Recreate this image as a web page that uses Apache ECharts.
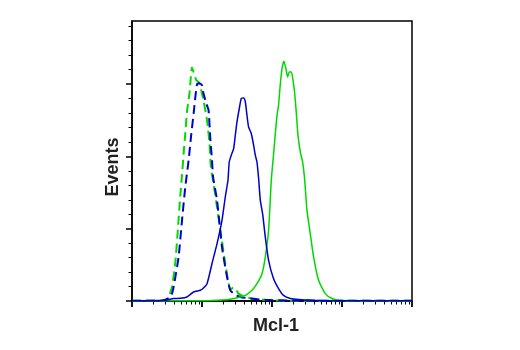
<!DOCTYPE html>
<html>
<head>
<meta charset="utf-8">
<script src="https://cdn.jsdelivr.net/npm/echarts@6/dist/echarts.min.js"></script>
<style>
  html, body { margin: 0; padding: 0; background: #fff; }
  #chart { width: 520px; height: 350px; }
</style>
</head>
<body>
<div id="chart"></div>
<script>
// ---- Data (fluorescence intensity on log scale, event counts) ----
const xMajorTicks = [1, 10, 100, 1000, 10000];
const xMinorTicks = [2,3,4,5,6,7,8,9, 20,30,40,50,60,70,80,90, 200,300,400,500,600,700,800,900, 2000,3000,4000,5000,6000,7000,8000,9000];
const yMajorTicks = [0, 50, 100, 150];
const yMinorTicks = [10,20,30,40, 60,70,80,90, 110,120,130,140, 160,170,180,190];

// Green dashed histogram
const greenDashed = [
  [1,0.1],[2.54,0.1],[3.30,1.2],[3.53,6.0],[3.73,9.7],[4.15,26.1],[4.48,46.8],[4.90,73.1],[5.18,86.9],
  [5.46,101.9],[5.77,115.8],[6.10,130.7],[6.65,144.5],[7.20,161.4],[7.76,156.8],[8.29,152.6],
  [8.94,151.5],[9.61,147.1],[10.5,138.8],[11.8,125.0],[12.8,108.9],[13.4,92.7],[14.6,81.2],
  [16.4,65.0],[18.3,48.9],[21.5,25.9],[24.0,12.2],[25.8,8.1],[28.3,9.3],[30.9,7.4],[33.3,5.1],
  [38.9,3.3],[49.0,1.9],[80.2,0.8],[183,0.1],[10000,0.1]
];
// Blue dashed histogram
const blueDashed = [
  [1,0.1],[2.54,0.1],[3.53,2.6],[3.73,5.1],[3.93,9.7],[4.63,30.4],[5.18,55.8],[5.77,78.8],[6.44,97.3],
  [6.96,113.4],[7.59,129.6],[8.48,149.9],[9.15,150.6],[10.0,149.2],[10.5,143.4],[11.5,136.7],
  [12.4,131.9],[13.1,113.4],[13.9,97.3],[14.4,85.8],[16.4,69.6],[19.3,37.3],[22.8,16.6],
  [25.4,7.4],[29.9,4.3],[35.2,2.8],[49.0,1.7],[80.2,0.8],[183,0.3],[10000,0.2]
];
// Green solid histogram
const greenSolid = [
  [1,0.1],[9.46,0.1],[16.4,0.5],[24.0,1.0],[33.3,2.4],[41.6,3.9],[51.8,7.4],[61.0,12.0],[72.0,18.9],
  [80.2,30.4],[89.4,48.9],[97.7,83.5],[105,100.8],[111,114.6],[118,128.4],[124,135.3],[131,149.2],
  [139,160.7],[148,165.8],[158,160.7],[167,154.9],[177,158.4],[189,158.4],[200,152.6],[210,144.5],
  [222,130.7],[235,114.6],[254,103.0],[274,96.1],[292,84.7],[316,62.7],[352,46.6],[393,30.4],
  [463,14.3],[577,5.1],[720,1.7],[894,0.5],[1820,0.1],[10000,0.1]
];
// Blue solid histogram
const blueSolid = [
  [1,0.2],[2.99,0.5],[3.93,1.7],[4.90,1.9],[6.10,2.8],[7.59,6.2],[9.46,7.4],[10.4,8.8],[11.8,12.0],
  [13.9,25.9],[16.4,39.7],[19.3,55.8],[21.5,71.9],[23.5,83.5],[24.5,96.1],[26.2,100.8],[28.3,105.4],
  [29.9,114.6],[31.6,123.8],[34.1,133.1],[36.4,140.0],[39.3,140.4],[41.6,137.6],[43.9,128.4],
  [46.3,120.3],[50.6,115.8],[54.6,107.7],[57.7,100.8],[61.0,96.1],[64.4,84.7],[68.1,69.6],
  [73.4,60.4],[80.2,44.3],[89.4,28.1],[105,15.5],[124,8.6],[146,3.9],[183,1.7],[240,1.0],
  [490,0.3],[10000,0.2]
];

const X_MIN = 1, X_MAX = 10000, Y_MIN = 0, Y_MAX = 193.6;
const GREEN = '#00d800', BLUE = '#0000cc';
const FONT = '"Liberation Sans Narrow", "Liberation Sans", Arial, sans-serif';

const chart = echarts.init(document.getElementById('chart'), null, { renderer: 'canvas' });

function xAx(ticks, len, width, withLine, name) {
  return {
    type: 'log', logBase: 10, min: X_MIN, max: X_MAX, position: 'bottom', gridIndex: 0,
    axisLine: { show: withLine, onZero: false, lineStyle: { color: '#000', width: 1.5 } },
    axisTick: { show: true, inside: false, length: len, customValues: ticks, lineStyle: { color: '#000', width: width } },
    axisLabel: { show: false }, splitLine: { show: false }, minorTick: { show: false },
    name: name || '', nameLocation: 'middle', nameGap: 16,
    nameTextStyle: { fontFamily: FONT, fontWeight: 'bold', fontSize: 18, color: '#222', padding: [0, 0, 0, 8] }
  };
}
function yAx(ticks, len, width, withLine, name) {
  return {
    type: 'value', min: Y_MIN, max: Y_MAX, position: 'left', gridIndex: 0,
    axisLine: { show: withLine, onZero: false, lineStyle: { color: '#000', width: 1.5 } },
    axisTick: { show: true, inside: false, length: len, customValues: ticks, lineStyle: { color: '#000', width: width } },
    axisLabel: { show: false }, splitLine: { show: false },
    name: name || '', nameLocation: 'middle', nameGap: 10, nameRotate: 90,
    nameTextStyle: { fontFamily: FONT, fontWeight: 'bold', fontSize: 18, color: '#222', padding: [0, 12, 0, 0] }
  };
}

function line(name, data, color, dashed) {
  return {
    name: name, type: 'line', data: data, xAxisIndex: 0, yAxisIndex: 0,
    showSymbol: false, symbol: 'none', smooth: 0.2, animation: false,
    lineStyle: { color: color, width: dashed ? 2 : 1.5, type: dashed ? [9, 5] : 'solid' },
    emphasis: { disabled: true }
  };
}

chart.setOption({
  animation: false,
  backgroundColor: '#fff',
  grid: { left: 132, right: 108, top: 21, bottom: 49, show: true, borderColor: '#000', borderWidth: 1.5, backgroundColor: 'transparent' },
  xAxis: [ xAx(xMajorTicks, 6, 1.8, true, 'Mcl-1'), xAx(xMinorTicks, 3.5, 1, false) ],
  yAxis: [ yAx(yMajorTicks, 6, 1.5, true, 'Events'), yAx(yMinorTicks, 3.5, 1, false) ],
  series: [
    line('Control (green, dashed)', greenDashed, GREEN, true),
    line('Control (blue, dashed)', blueDashed, BLUE, true),
    line('Mcl-1 (green)', greenSolid, GREEN, false),
    line('Mcl-1 (blue)', blueSolid, BLUE, false)
  ]
});
</script>
</body>
</html>
